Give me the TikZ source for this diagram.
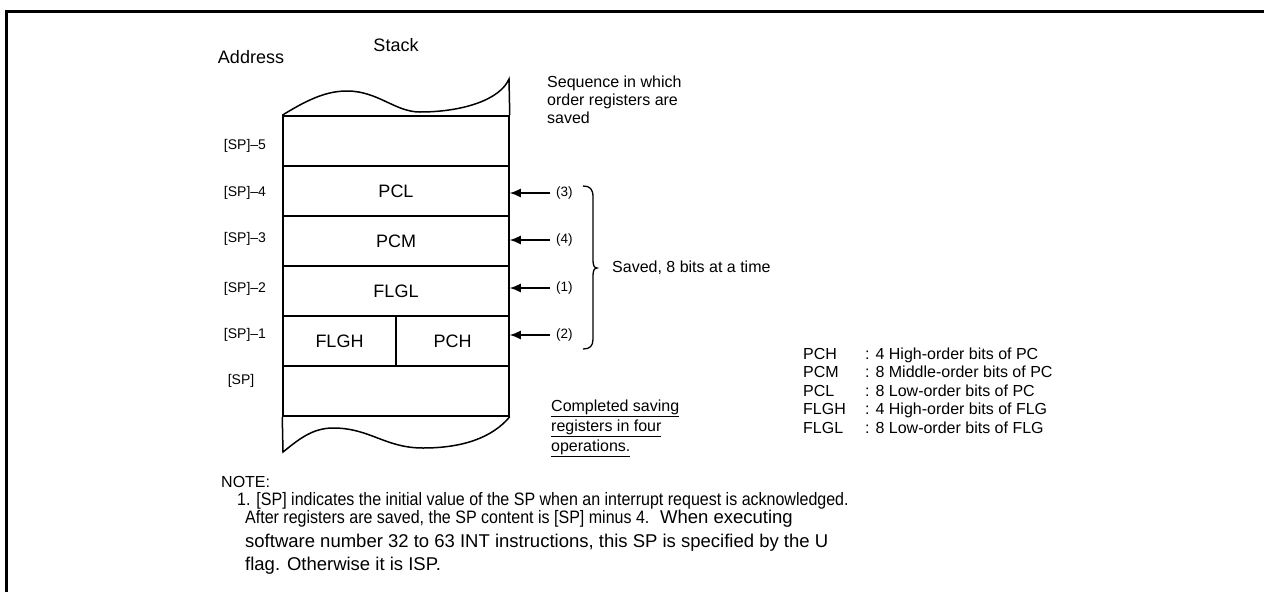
\documentclass[tikz,border=0pt]{standalone}
\usepackage{fontspec}
\setmainfont{Liberation Sans}
\newfontfamily\narrowfont[FakeStretch=0.89]{Liberation Sans}
\usetikzlibrary{arrows.meta}
\begin{document}
\begin{tikzpicture}[x=1pt,y=-1pt,
  cell/.style={draw,line width=1.5pt,minimum height=50pt,inner sep=0pt,font=\fontsize{18}{20}\selectfont},
  lbl/.style={font=\fontsize{14}{16}\selectfont,inner sep=0pt},
  num/.style={font=\fontsize{13.5}{15}\selectfont,anchor=west,inner sep=0pt},
  txt/.style={font=\fontsize{16}{18}\selectfont,anchor=base west,inner sep=0pt},
  head/.style={font=\fontsize{18}{20}\selectfont,inner sep=0pt},
  note/.style={font=\fontsize{18.5}{21}\selectfont,anchor=base west,inner sep=0pt},
  narrow/.style={font=\fontsize{18}{20}\narrowfont,anchor=base west,inner sep=0pt},
  wave/.style={line width=1.5pt},
  arr/.style={line width=1.5pt,-{Latex[length=11pt,width=9pt]}},
  ]
\useasboundingbox (0,0) rectangle (1264,592);
\draw[line width=3pt] (6.5,592) -- (6.5,11.5) -- (1264,11.5);

\node[head] (addr) at (251,57) {Address};
\node[head] (stack) at (396,45) {Stack};

% stack cells
\node[cell,minimum width=226pt] (r5) at (396,141) {};
\node[cell,minimum width=226pt] (r4) at (396,191) {PCL};
\node[cell,minimum width=226pt] (r3) at (396,241) {PCM};
\node[cell,minimum width=226pt] (r2) at (396,291) {FLGL};
\node[cell,minimum width=113pt] (flgh) at (339.5,341) {FLGH};
\node[cell,minimum width=113pt] (pch) at (452.5,341) {PCH};
\node[cell,minimum width=226pt] (r0) at (396,391) {};

\coordinate (tr) at (509,79);
\coordinate (bl) at (283,452);
\draw[wave] (r5.north west) .. controls (310,98) and (328,91) .. (347,91)
  .. controls (378,91) and (395,112) .. (420,112)
  .. controls (462,112) and (500,100) .. (tr) -- (r5.north east);
\draw[wave] (r0.south east) .. controls (492,438) and (462,448) .. (423,448)
  .. controls (385,448) and (370,428) .. (333,428)
  .. controls (312,428) and (298,440) .. (bl) -- (r0.south west);

% address labels
\node[lbl] (a5) at (245,146) {[SP]–5};
\node[lbl] (a4) at (245,193) {[SP]–4};
\node[lbl] (a3) at (245,239) {[SP]–3};
\node[lbl] (a2) at (245,289) {[SP]–2};
\node[lbl] (a1) at (245,335) {[SP]–1};
\node[lbl] (a0) at (241,381) {[SP]};

% arrows
\coordinate (t3) at (550,193);
\coordinate (t4) at (550,240);
\coordinate (t1) at (550,288);
\coordinate (t2) at (550,335);
\draw[arr] (t3) -- (t3 -| r4.east);
\draw[arr] (t4) -- (t4 -| r3.east);
\draw[arr] (t1) -- (t1 -| r2.east);
\draw[arr] (t2) -- (t2 -| pch.east);
\node[num] (n3) at (556,193) {(3)};
\node[num] (n4) at (556,240) {(4)};
\node[num] (n1) at (556,288) {(1)};
\node[num] (n2) at (556,335) {(2)};

% brace
\coordinate (bt) at (583,186);
\coordinate (bb) at (583,349);
\draw[line width=1.3pt] (bt) .. controls (590,186) and (593,189) .. (593,197) -- (593,260)
  .. controls (593,265) and (594,268) .. (597,268)
  .. controls (594,268) and (593,271) .. (593,276) -- (593,339)
  .. controls (593,346) and (590,349) .. (bb);
\node[txt,anchor=west] (saved) at (612,268) {Saved, 8 bits at a time};

% sequence text
\node[txt] (s1) at (547,87) {Sequence in which};
\node[txt] (s2) at (547,105) {order registers are};
\node[txt] (s3) at (547,123) {saved};

% completed text
\node[txt] (c1) at (551,411) {\underline{Completed saving}};
\node[txt] (c2) at (551,431) {\underline{registers in four}};
\node[txt] (c3) at (551,451) {\underline{operations.}};

% legend
\node[txt] (k1) at (803,359) {PCH};
\node[txt] (k2) at (803,377.5) {PCM};
\node[txt] (k3) at (803,396) {PCL};
\node[txt] (k4) at (803,414.5) {FLGH};
\node[txt] (k5) at (803,433) {FLGL};
\node[txt] (d1) at (865,359) {: 4 High-order bits of PC};
\node[txt] (d2) at (865,377.5) {: 8 Middle-order bits of PC};
\node[txt] (d3) at (865,396) {: 8 Low-order bits of PC};
\node[txt] (d4) at (865,414.5) {: 4 High-order bits of FLG};
\node[txt] (d5) at (865,433) {: 8 Low-order bits of FLG};

% note
\node[note,font=\fontsize{16}{18}\selectfont] (nt) at (221,487) {NOTE:};
\node[narrow] (l1) at (237,505) {1. [SP] indicates the initial value of the SP when an interrupt request is acknowledged.};
\node[narrow] (l2) at (245,523) {After registers are saved, the SP content is [SP] minus 4.};
\node[note] (l2b) at (l2.base east) {\ \ When executing};
\node[note] (l3) at (245,547) {software number 32 to 63 INT instructions, this SP is specified by the U};
\node[note] (l4) at (245,570) {flag. Otherwise it is ISP.};
\end{tikzpicture}
\end{document}
